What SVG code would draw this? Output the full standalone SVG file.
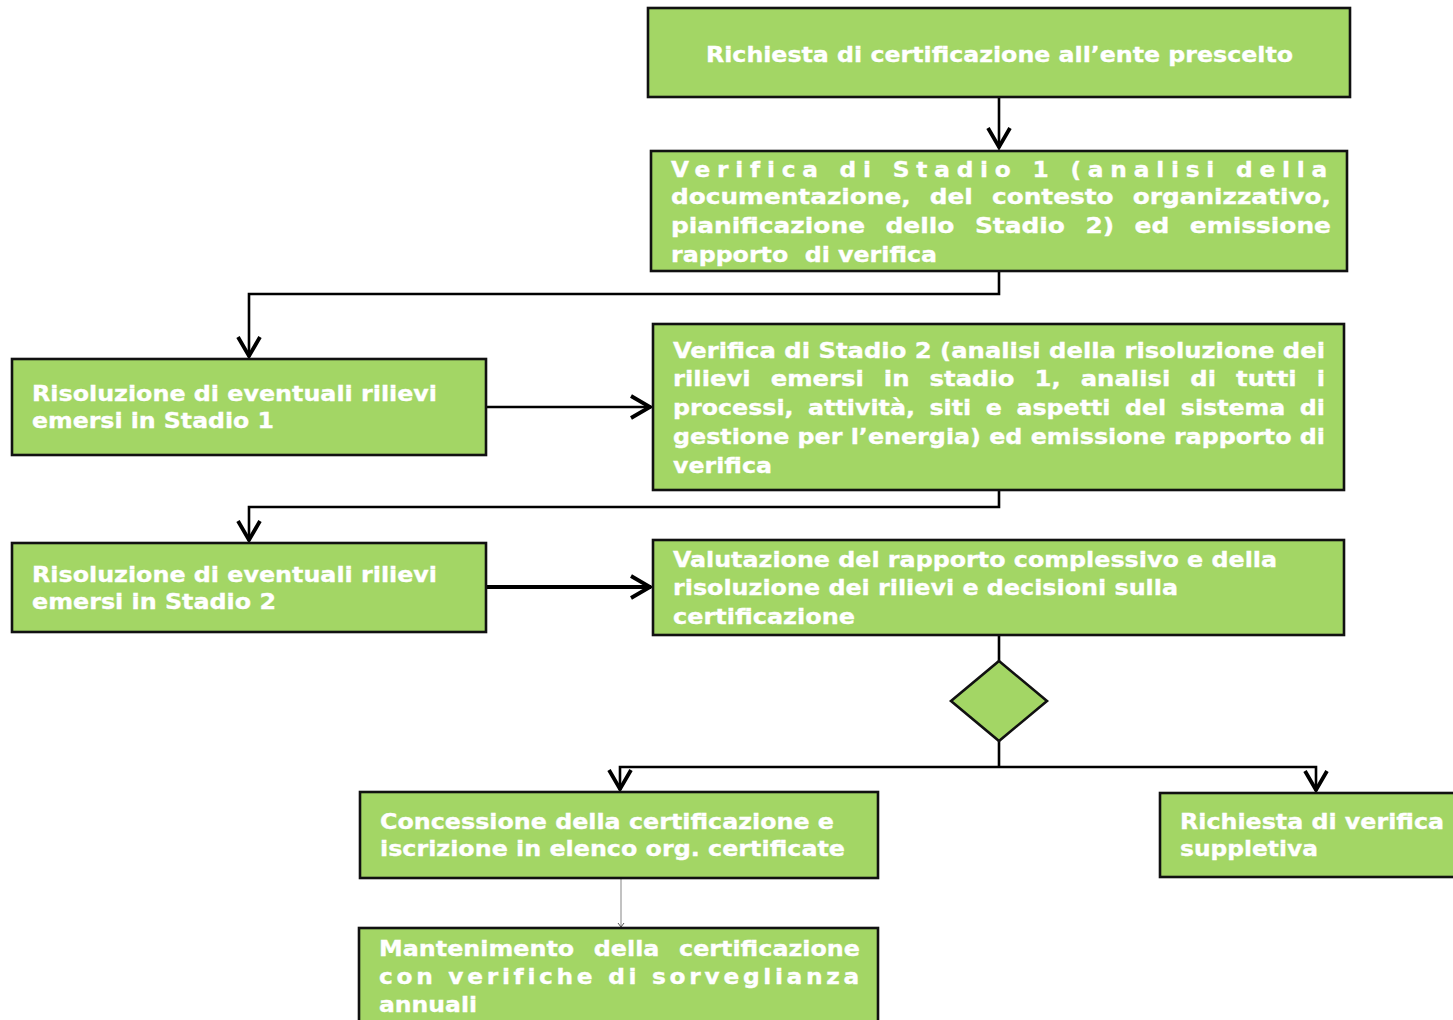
<svg xmlns="http://www.w3.org/2000/svg" width="1453" height="1020" viewBox="0 0 1453 1020">
<style>
.box{fill:#a3d665;stroke:#111;stroke-width:2.6}
.t{fill:#fff;stroke:#fff;stroke-width:0.3;font-family:'DejaVu Sans Condensed','DejaVu Sans',Verdana,sans-serif;font-weight:bold;font-size:21px}
.con{fill:none;stroke:#000;stroke-width:2.6}
.thick{stroke-width:4}
</style>
<defs>
<marker id="ah" markerUnits="userSpaceOnUse" markerWidth="40" markerHeight="40" viewBox="-25 -20 40 40" refX="0" refY="0" orient="auto">
<path d="M-20,-11 L-1,0 L-20,11" fill="none" stroke="#000" stroke-width="3.8" stroke-linejoin="miter"/>
</marker>
<marker id="ahs" markerUnits="userSpaceOnUse" markerWidth="10" markerHeight="10" viewBox="-6 -5 10 10" refX="0" refY="0" orient="auto">
<path d="M-4,-3 L0,0 L-4,3" fill="none" stroke="#555" stroke-width="1"/>
</marker>
</defs>
<rect width="1453" height="1020" fill="#fff"/>
<g id="connectors">
<path class="con" d="M999 97 V148" marker-end="url(#ah)"/>
<path class="con" d="M999 271 V294 H249 V357" marker-end="url(#ah)"/>
<path class="con" d="M486 407 H651" marker-end="url(#ah)"/>
<path class="con" d="M999 490 V507 H249 V541" marker-end="url(#ah)"/>
<path class="con thick" d="M486 587 H651" marker-end="url(#ah)"/>
<path class="con" d="M999 635 V661"/>
<path class="con" d="M999 741 V767"/>
<path class="con" d="M999 767 H620 V790" marker-end="url(#ah)"/>
<path class="con" d="M999 767 H1316 V791" marker-end="url(#ah)"/>
<path d="M621 878 V927" fill="none" stroke="#999" stroke-width="1.2" marker-end="url(#ahs)"/>
</g>
<g id="n1">
<rect class="box" x="648" y="8" width="702" height="89"/>
<text class="t" x="706" y="62" font-size="22" textLength="587" lengthAdjust="spacingAndGlyphs">Richiesta di certificazione all’ente prescelto</text>
</g>
<g id="n2">
<rect class="box" x="651" y="151" width="696" height="120"/>
<text class="t" x="671" y="177" letter-spacing="5.5" textLength="663" lengthAdjust="spacingAndGlyphs">Verifica di Stadio 1 (analisi della</text>
<text class="t" x="671" y="204" word-spacing="8" textLength="660" lengthAdjust="spacingAndGlyphs">documentazione, del contesto organizzativo,</text>
<text class="t" x="671" y="233" word-spacing="9" textLength="660" lengthAdjust="spacingAndGlyphs">pianificazione dello Stadio 2) ed emissione</text>
<text class="t" x="671" y="262" xml:space="preserve" textLength="266" lengthAdjust="spacingAndGlyphs">rapporto  di verifica</text>
</g>
<g id="n3">
<rect class="box" x="12" y="359" width="474" height="96"/>
<text class="t" x="32" y="401" textLength="405" lengthAdjust="spacingAndGlyphs">Risoluzione di eventuali rilievi</text>
<text class="t" x="32" y="428" textLength="242" lengthAdjust="spacingAndGlyphs">emersi in Stadio 1</text>
</g>
<g id="n4">
<rect class="box" x="653" y="324" width="691" height="166"/>
<text class="t" x="673" y="358" textLength="652" lengthAdjust="spacingAndGlyphs">Verifica di Stadio 2 (analisi della risoluzione dei</text>
<text class="t" x="673" y="386" word-spacing="9" textLength="652" lengthAdjust="spacingAndGlyphs">rilievi emersi in stadio 1, analisi di tutti i</text>
<text class="t" x="673" y="415" word-spacing="5" textLength="652" lengthAdjust="spacingAndGlyphs">processi, attività, siti e aspetti del sistema di</text>
<text class="t" x="673" y="444" textLength="652" lengthAdjust="spacingAndGlyphs">gestione per l’energia) ed emissione rapporto di</text>
<text class="t" x="673" y="473" textLength="99" lengthAdjust="spacingAndGlyphs">verifica</text>
</g>
<g id="n5">
<rect class="box" x="12" y="543" width="474" height="89"/>
<text class="t" x="32" y="582" textLength="405" lengthAdjust="spacingAndGlyphs">Risoluzione di eventuali rilievi</text>
<text class="t" x="32" y="609" textLength="244" lengthAdjust="spacingAndGlyphs">emersi in Stadio 2</text>
</g>
<g id="n6">
<rect class="box" x="653" y="540" width="691" height="95"/>
<text class="t" x="673" y="567" textLength="604" lengthAdjust="spacingAndGlyphs">Valutazione del rapporto complessivo e della</text>
<text class="t" x="673" y="595" textLength="505" lengthAdjust="spacingAndGlyphs">risoluzione dei rilievi e decisioni sulla</text>
<text class="t" x="673" y="624" textLength="182" lengthAdjust="spacingAndGlyphs">certificazione</text>
</g>
<g id="n7">
<polygon class="box" points="999,661 1047,701 999,741 951,701"/>
</g>
<g id="n8">
<rect class="box" x="360" y="792" width="518" height="86"/>
<text class="t" x="380" y="829" textLength="454" lengthAdjust="spacingAndGlyphs">Concessione della certificazione e</text>
<text class="t" x="380" y="856" textLength="465" lengthAdjust="spacingAndGlyphs">iscrizione in elenco org. certificate</text>
</g>
<g id="n9">
<rect class="box" x="1160" y="793" width="300" height="84"/>
<text class="t" x="1180" y="829" textLength="264" lengthAdjust="spacingAndGlyphs">Richiesta di verifica</text>
<text class="t" x="1180" y="856" textLength="138" lengthAdjust="spacingAndGlyphs">suppletiva</text>
</g>
<g id="n10">
<rect class="box" x="359" y="928" width="519" height="100"/>
<text class="t" x="379" y="956" word-spacing="9" textLength="481" lengthAdjust="spacingAndGlyphs">Mantenimento della certificazione</text>
<text class="t" x="379" y="984" letter-spacing="3" textLength="484" lengthAdjust="spacingAndGlyphs">con verifiche di sorveglianza</text>
<text class="t" x="379" y="1012" textLength="98" lengthAdjust="spacingAndGlyphs">annuali</text>
</g>
</svg>
